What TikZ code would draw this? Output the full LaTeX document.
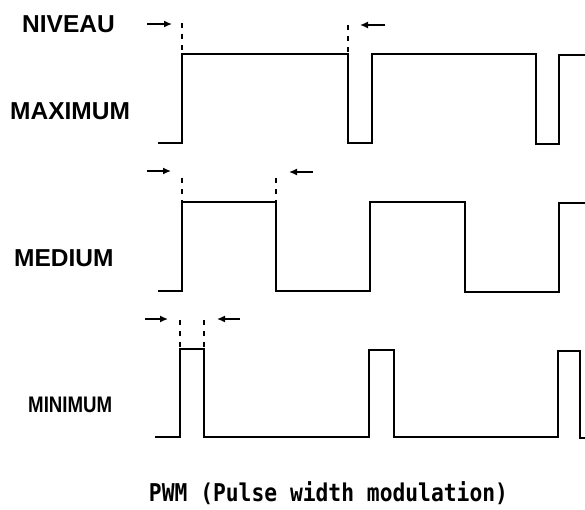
\documentclass[tikz,border=0pt]{standalone}
\usepackage{fontspec}
\setmainfont{Liberation Sans}
\newfontfamily\capfont{DejaVu Sans Mono}
\usetikzlibrary{arrows.meta}
\begin{document}
\begin{tikzpicture}[x=1pt,y=-1pt,
  wave/.style={line width=1.5pt, line join=miter},
  guide/.style={line width=1.6pt, dash pattern=on 5pt off 6pt},
  ptr/.style={line width=1.4pt, -{Latex[length=8pt,width=7pt]}},
  lab/.style={font=\fontsize{24.5}{26}\selectfont\bfseries, anchor=west, inner sep=0pt}]
\useasboundingbox (0,0) rectangle (585,509);
% labels
\node[lab] (niveau) at (22,24) {NIVEAU};
\node[lab] (maximum) at (10,111) {MAXIMUM};
\node[lab] (medium) at (14,258) {MEDIUM};
\node[lab, font=\fontsize{22.5}{24}\selectfont\bfseries] (minimum) at (28,405) {\scalebox{0.83}[1]{MINIMUM}};
\node[inner sep=0pt, font=\capfont\bfseries\fontsize{21.3}{23}\selectfont] (caption) at (328.5,493) {\scalebox{1}[1.15]{PWM (Pulse width modulation)}};
% row 1: maximum
\draw[wave] (158,143) -- (182,143) -- (182,54) -- (348,54) -- (348,143) -- (372,143) -- (372,54) -- (536,54) -- (536,144) -- (559,144) -- (559,55) -- (585,55);
\draw[guide] (182,23) -- (182,54);
\draw[guide] (348,25) -- (348,54);
\coordinate (a1s) at (147,24); \coordinate (a1e) at (172,24);
\coordinate (a2s) at (385,25); \coordinate (a2e) at (360,25);
\draw[ptr] (a1s) -- (a1e);
\draw[ptr] (a2s) -- (a2e);
% row 2: medium
\draw[wave] (158,291) -- (182,291) -- (182,202) -- (276,202) -- (276,291) -- (370,291) -- (370,202) -- (465,202) -- (465,292) -- (559,292) -- (559,203) -- (585,203);
\draw[guide] (182,178) -- (182,202);
\draw[guide] (276,178) -- (276,202);
\coordinate (b1s) at (147,171); \coordinate (b1e) at (171,171);
\coordinate (b2s) at (313,172); \coordinate (b2e) at (289,172);
\draw[ptr] (b1s) -- (b1e);
\draw[ptr] (b2s) -- (b2e);
% row 3: minimum
\draw[wave] (155,437) -- (180,437) -- (180,349) -- (204,349) -- (204,437) -- (369,437) -- (369,350) -- (394,350) -- (394,437) -- (558,437) -- (558,351) -- (580,351) -- (580,438) -- (585,438);
\draw[guide] (180,320) -- (180,349);
\draw[guide] (204,320) -- (204,349);
\coordinate (c1s) at (145,319); \coordinate (c1e) at (168,319);
\coordinate (c2s) at (240,319); \coordinate (c2e) at (217,319);
\draw[ptr] (c1s) -- (c1e);
\draw[ptr] (c2s) -- (c2e);
\end{tikzpicture}
\end{document}
